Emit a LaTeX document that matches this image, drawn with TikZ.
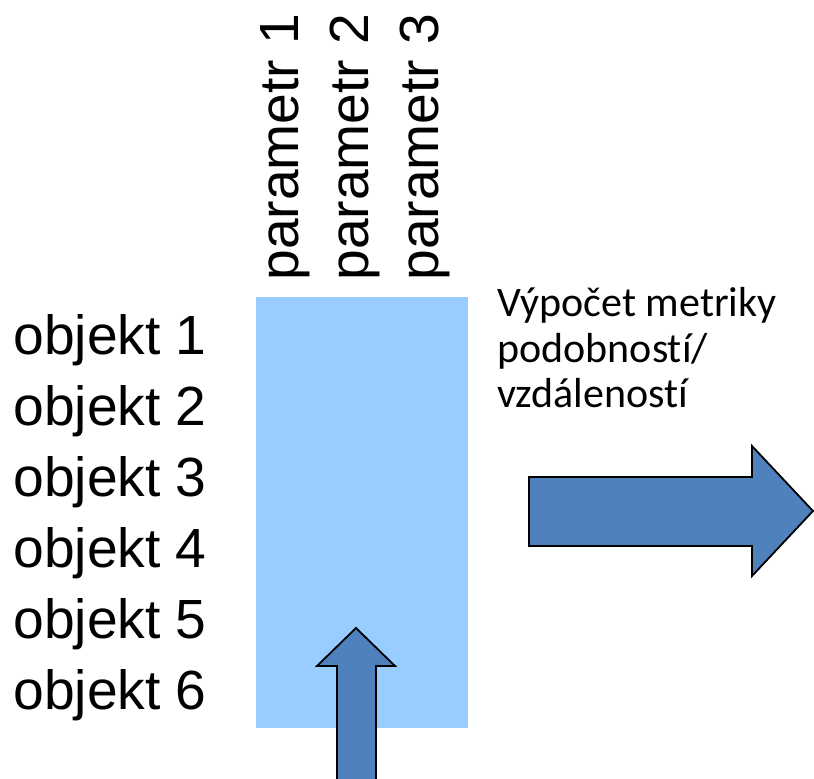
\documentclass[tikz,border=0pt]{standalone}
\usepackage{fontspec}
\setmainfont{Liberation Sans}
\newfontfamily\calibrifont[Ligatures=NoCommon]{Carlito}
\definecolor{tableblue}{HTML}{99CCFF}
\definecolor{arrowblue}{HTML}{4F81BD}

\begin{document}
\begin{tikzpicture}[x=0.5pt, y=-0.5pt,
    objlabel/.style={anchor=base west, inner sep=0pt, font=\fontsize{27.6}{32}\selectfont},
    parlabel/.style={objlabel, rotate=90},
    metriclabel/.style={anchor=base west, inner sep=0pt, align=left, font=\calibrifont\fontsize{21}{22.75}\selectfont},
    blockarrow/.style={draw=black, fill=arrowblue, line width=0.9pt, line join=miter}]
    % Define grid dimensions (units are pixels of the original picture)
    \def\rowstep{71} % Distance between object rows
    \def\colstep{70} % Distance between parameter columns
    \def\tablel{256} % Left edge of the table
    \def\tabler{468} % Right edge of the table
    \def\tablet{297} % Top edge of the table
    \def\tableb{728} % Bottom edge of the table

    \useasboundingbox (0,0) rectangle (814,779);

    % --- Data table ---
    \fill[tableblue] (\tablel,\tablet) rectangle (\tabler,\tableb);

    % Object labels (rows)
    \foreach \i in {1,...,6} {
        \node[objlabel] (obj\i) at (13, {355+(\i-1)*\rowstep}) {objekt \i};
    }

    % Parameter labels (columns), rotated
    \foreach \j in {1,2,3} {
        \node[parlabel] (par\j) at ({298+(\j-1)*\colstep}, 281) {parametr \j};
    }

    % --- Input arrow (pointing up into the table) ---
    \draw[blockarrow] (337,790) -- (337,666) -- (317,666) -- (356,628)
        -- (395,666) -- (376,666) -- (376,790) -- cycle;

    % --- Metric label and output arrow ---
    % (base anchor of a multi-line node sits on its last line)
    \node[metriclabel] (metric) at (497,408) {Výpočet metriky\\podobností/\\vzdáleností};

    \draw[blockarrow] (529,477) -- (752,477) -- (752,446) -- (813,511)
        -- (752,576) -- (752,546) -- (529,546) -- cycle;

\end{tikzpicture}
\end{document}
